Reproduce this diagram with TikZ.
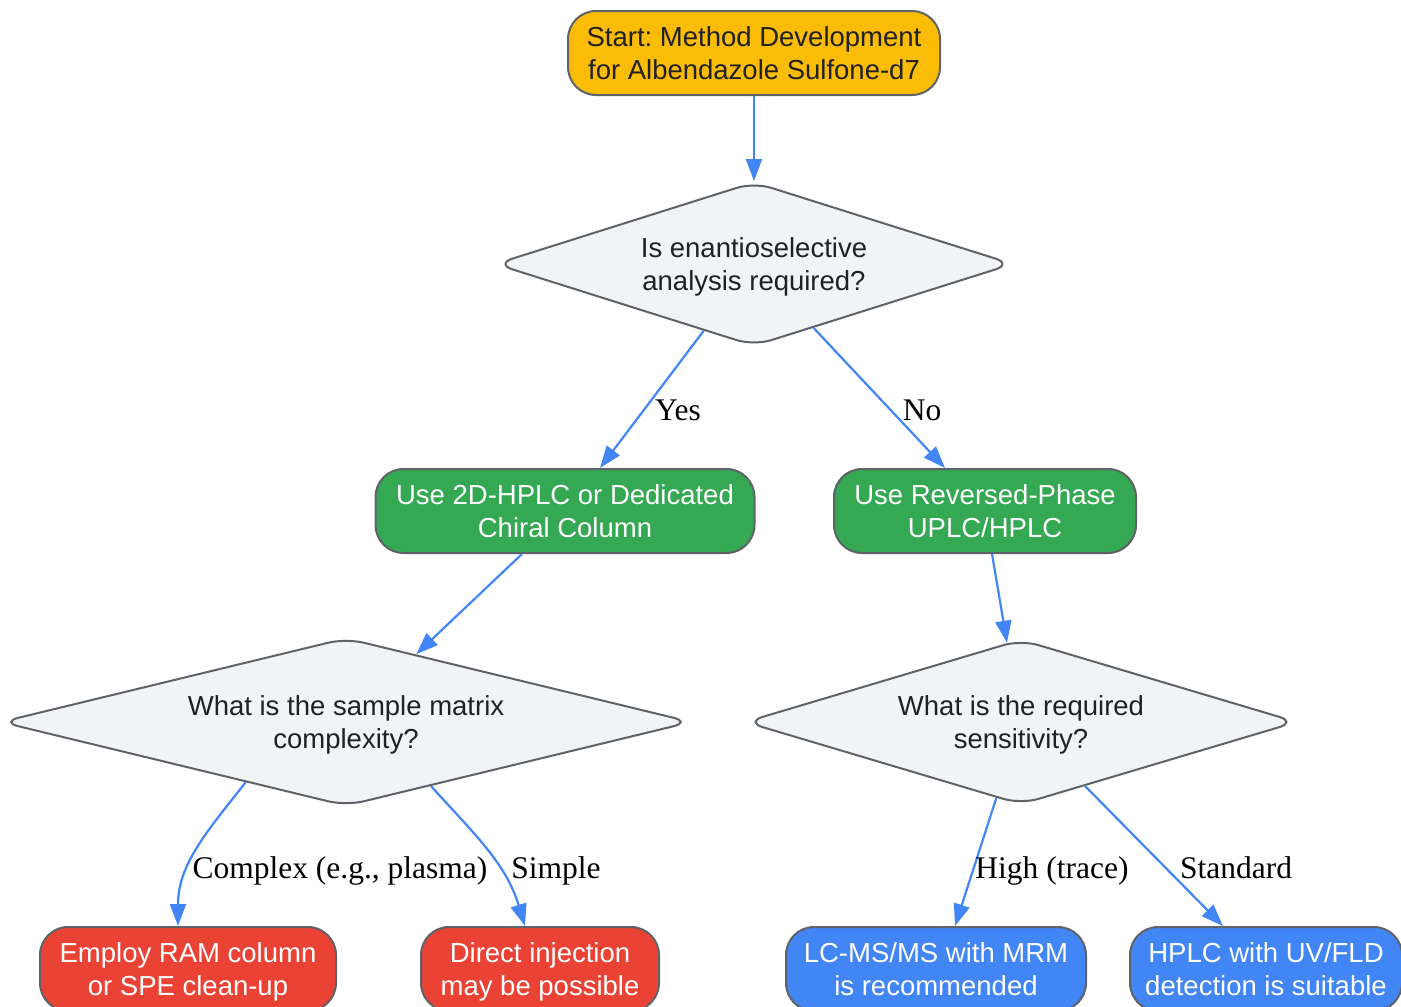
\documentclass[tikz,border=0pt]{standalone}
\usepackage{fontspec}
\setmainfont{Liberation Sans}
\newfontfamily\lblserif{Liberation Serif}
\newcommand{\boxfont}{\frenchspacing\fontsize{27.5}{33}\selectfont}
\newcommand{\lblfont}{\frenchspacing\lblserif\fontsize{31.5}{36}\selectfont}
\usepackage{tikz}
\usetikzlibrary{positioning, calc, arrows.meta, shapes}
\tikzset{>={Triangle[length=22pt,width=16pt]}}
\definecolor{startgold}{HTML}{FBBC05}
\definecolor{usegreen}{HTML}{34A853}
\definecolor{endred}{HTML}{EA4335}
\definecolor{endblue}{HTML}{4285F4}
\definecolor{askgray}{HTML}{F1F3F4}
\definecolor{rimgray}{HTML}{5F6368}
\definecolor{inkdark}{HTML}{202124}
\tikzset{
  box/.style={draw=rimgray, line width=2pt, rounded corners=28pt,
    minimum height=84pt, inner sep=0pt, text depth=0pt, align=center,
    font=\boxfont},
  ask/.style={diamond, draw=rimgray, fill=askgray, line width=2pt,
    rounded corners=18pt, inner sep=0pt, text depth=0pt, align=center,
    font=\boxfont, text=inkdark},
  flow/.style={color=endblue, line width=2.2pt},
  lbl/.style={font=\lblfont, text=black, inner sep=0pt, anchor=base}
}

\begin{document}
\begin{tikzpicture}[x=1pt, y=-1pt]
    \useasboundingbox (0,0) rectangle (1401,1007);

    \node[box, fill=startgold, text=inkdark, minimum width=372pt] (start) at (754,53) {
      Start: Method Development \\ for Albendazole Sulfone-d7
    };
    \node[ask, minimum width=518pt, minimum height=164pt, aspect=3.2] (d1) at (754,264) {
      Is enantioselective \\ analysis required?
    };

    \node[box, fill=usegreen, text=white, minimum width=379pt] (g1) at (565,511) {
      Use 2D-HPLC or Dedicated \\ Chiral Column
    };
    \node[box, fill=usegreen, text=white, minimum width=302pt] (g2) at (985,511) {
      Use Reversed-Phase \\ UPLC/HPLC
    };

    \node[ask, minimum width=691pt, minimum height=168pt, aspect=4.1] (d2) at (346,722) {
      What is the sample matrix \\ complexity?
    };
    \node[ask, minimum width=552pt, minimum height=165pt, aspect=3.3] (d3) at (1021,722) {
      What is the required \\ sensitivity?
    };

    \node[box, fill=endred, text=white, minimum width=296pt] (r1) at (188,969) {
      Employ RAM column \\ or SPE clean-up
    };
    \node[box, fill=endred, text=white, minimum width=238pt] (r2) at (540,969) {
      Direct injection \\ may be possible
    };
    \node[box, fill=endblue, text=white, minimum width=300pt] (b1) at (936,969) {
      LC-MS/MS with MRM \\ is recommended
    };
    \node[box, fill=endblue, text=white, minimum width=272pt] (b2) at (1266,969) {
      HPLC with UV/FLD \\ detection is suitable
    };

    \path [->, flow]
    (start.south) edge (d1.north)
    (d1.233) edge ([xshift=35]g1.north)
    (d1.313) edge ([xshift=-40]g2.north)
    (g1.south) ++(-43,0) edge (d2.44)
    (g2.south) ++(7,0) edge (d3.100)
    (d2.211) edge[out=232, in=90] ([xshift=-10]r1.north)
    (d2.323) edge[out=-48, in=107] ([xshift=-15]r2.north)
    (d3.252) edge ([xshift=19]b1.north)
    (d3.315) edge ([xshift=-43]b2.north);

    \node[lbl] (yes) at (678,420) {Yes};
    \node[lbl] (no) at (922,420) {No};
    \node[lbl] (complex) at (340,878) {Complex (e.g., plasma)};
    \node[lbl] (simple) at (556,878) {Simple};
    \node[lbl] (high) at (1052,878) {High (trace)};
    \node[lbl] (standard) at (1236,878) {Standard};
  \end{tikzpicture}
\end{document}
